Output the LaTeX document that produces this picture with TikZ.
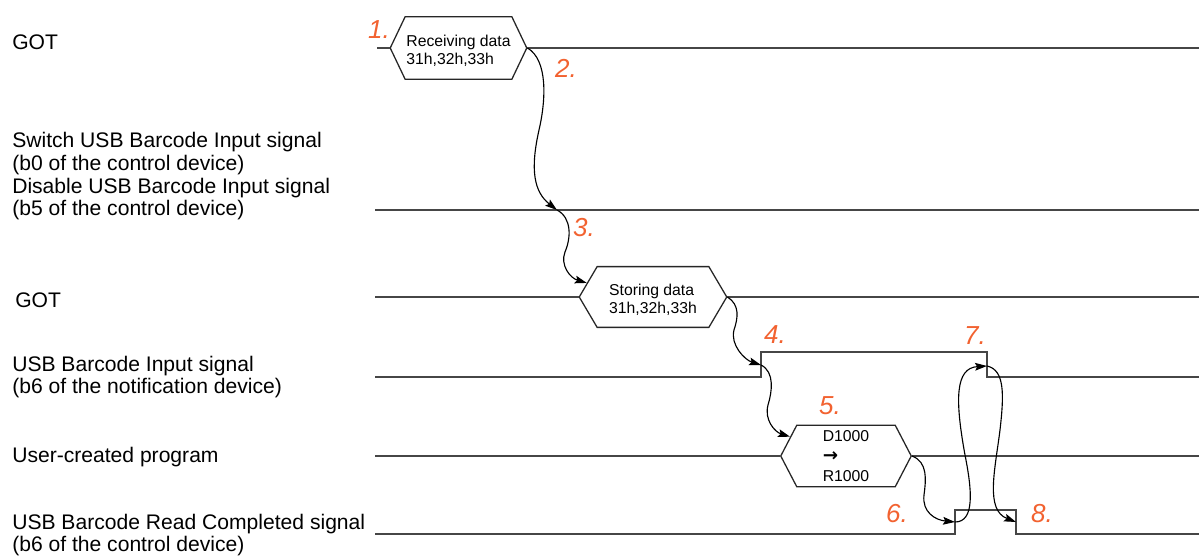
\documentclass[tikz,border=0pt]{standalone}
\usepackage{fontspec}
\setmainfont{Liberation Sans}
\newfontfamily\arrowfont{DejaVu Sans}
\usetikzlibrary{arrows.meta,shapes.symbols}
\definecolor{steporange}{RGB}{242,98,48}
\definecolor{wavegray}{RGB}{70,70,70}
\begin{document}
\begin{tikzpicture}[x=0.025cm,y=-0.025cm,
    wave/.style={draw=wavegray,line width=1.2pt},
    hexbox/.style={draw=black!85,line width=0.9pt,fill=white,shape=signal,
      signal to=east and west,inner sep=0pt,align=left,
      font=\fontsize{11.2}{12.8}\selectfont},
    flow/.style={draw=black,line width=0.8pt,-{Stealth[length=8.5pt,width=5.5pt,inset=1.5pt]}},
    stepno/.style={text=steporange,inner sep=0pt,font=\fontsize{18.5}{20}\selectfont\itshape},
    rowlbl/.style={anchor=base west,align=left,inner sep=0pt,font=\fontsize{15}{16.3}\selectfont}]
  \useasboundingbox (0,0) rectangle (1199,557);
  % row labels (base = last line)
  \node[rowlbl] (lblgota) at (12,50) {GOT};
  \node[rowlbl] (lblsw) at (12,216) {Switch USB Barcode Input signal\\(b0 of the control device)\\Disable USB Barcode Input signal\\(b5 of the control device)};
  \node[rowlbl] (lblgotb) at (15,308) {GOT};
  \node[rowlbl] (lblin) at (12,394) {USB Barcode Input signal\\(b6 of the notification device)};
  \node[rowlbl] (lblprog) at (12,463) {User-created program};
  \node[rowlbl] (lblrc) at (12,552) {USB Barcode Read Completed signal\\(b6 of the control device)};
  % data boxes
  \node[hexbox,minimum width=97.1pt,minimum height=44.6pt,signal pointer angle=129,
    text height=25pt] (recv) at (458.5,48) {Receiving data\\31h,32h,33h};
  \node[hexbox,minimum width=104.9pt,minimum height=43.2pt,signal pointer angle=119,
    text height=25pt] (store) at (653,297) {Storing data\\31h,32h,33h};
  \node[hexbox,minimum width=92.8pt,minimum height=43.9pt,signal pointer angle=125,
    font=\fontsize{11.2}{14}\selectfont] (move) at (846,456) {D1000\\{\arrowfont\bfseries\fontsize{13}{14}\selectfont →}\\R1000};
  % signal lines
  \coordinate (swtip) at (557,210);
  \coordinate (ibup) at (761,365);
  \coordinate (ibdn) at (987,366);
  \coordinate (rcup) at (955,522);
  \coordinate (rcdn) at (1016,522);
  \draw[wave] (377,48) -- (recv.west);
  \draw[wave] (recv.east) -- (1199,48);
  \draw[wave] (375,210) -- (1199,210);
  \draw[wave] (375,297) -- (store.west);
  \draw[wave] (store.east) -- (1199,297);
  \draw[wave] (375,377) -- (761,377) -- (761,352) -- (987,352) -- (987,377) -- (1199,377);
  \draw[wave] (375,456) -- (move.west);
  \draw[wave] (move.east) -- (1199,456);
  \draw[wave] (375,534) -- (955,534) -- (955,510) -- (1016,510) -- (1016,534) -- (1199,534);
  % sequence arrows
  \draw[flow] (recv.east) .. controls (548,60) and (546,100) .. (539,130)
    .. controls (530,170) and (534,192) .. (swtip);
  \draw[flow] (swtip) .. controls (572,218) and (571,238) .. (565,252)
    .. controls (560,265) and (570,278) .. (store.168);
  \draw[flow] (store.east) .. controls (740,305) and (738,318) .. (734,330)
    .. controls (730,345) and (745,360) .. (ibup);
  \draw[flow] (ibup) .. controls (775,372) and (772,392) .. (768,405)
    .. controls (764,420) and (775,432) .. (move.161);
  \draw[flow] (move.east) .. controls (928,462) and (926,480) .. (924,495)
    .. controls (922,512) and (935,520) .. (rcup);
  \draw[flow] (rcup) .. controls (975,522) and (972,490) .. (965,455)
    .. controls (955,400) and (955,368) .. (ibdn);
  \draw[flow] (ibdn) .. controls (1005,370) and (1004,395) .. (1000,430)
    .. controls (995,470) and (985,510) .. (rcdn);
  % step numbers
  \node[stepno] (stepa) at (379,30) {1.};
  \node[stepno] (stepb) at (566,68) {2.};
  \node[stepno] (stepc) at (584,228) {3.};
  \node[stepno] (stepd) at (775,335) {4.};
  \node[stepno] (stepe) at (830,406) {5.};
  \node[stepno] (stepf) at (897,514) {6.};
  \node[stepno] (stepg) at (975,336) {7.};
  \node[stepno] (steph) at (1042,514) {8.};
\end{tikzpicture}
\end{document}
